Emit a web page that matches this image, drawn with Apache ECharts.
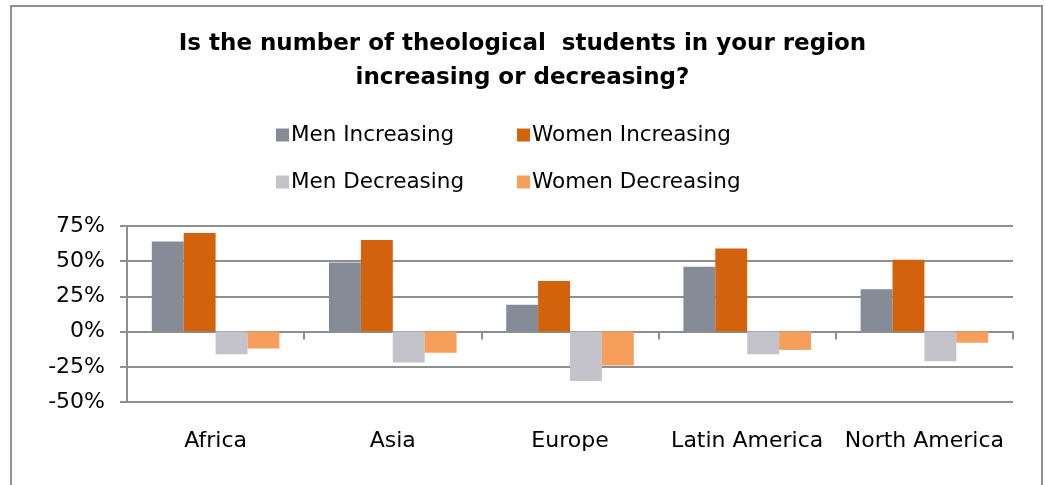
<!DOCTYPE html>
<html>
<head>
<meta charset="utf-8">
<script src="https://cdn.jsdelivr.net/npm/echarts@6/dist/echarts.min.js"></script>
<style>
  html, body { margin: 0; padding: 0; background: #fff; }
  #chart { width: 1045px; height: 485px; }
</style>
</head>
<body>
<div id="chart"></div>
<script>
"use strict";

// data (percent)
const categories = ["Africa", "Asia", "Europe", "Latin America", "North America"];
const men_increasing = [64, 49, 19, 46, 30];
const women_increasing = [70, 65, 36, 59, 51];
const men_decreasing = [-16, -22, -35, -16, -21];
const women_decreasing = [-12, -15, -24, -13, -8];
const series_names = ["Men Increasing", "Women Increasing", "Men Decreasing", "Women Decreasing"];
const chart_colors = ["#858c98", "#d2620b", "#c4c3cb", "#f69f5d"];

const FONT = "DejaVu Sans";
const GRID_COLOR = "#8f8f8f";

function legend_item(name, left, top) {
  return {
    data: [name],
    left: left,
    top: top,
    padding: 0,
    icon: "rect",
    itemWidth: 13,
    itemHeight: 13,
    itemGap: 0,
    selectedMode: false,
    textStyle: { fontFamily: FONT, fontSize: 21.5, color: "#000", padding: [0, 0, 0, -3] },
  };
}

function bar_series(name, values, color) {
  return {
    name: name,
    type: "bar",
    data: values,
    barGap: "0%",
    barCategoryGap: "28%",
    itemStyle: { color: color },
    animation: false,
    silent: true,
  };
}

const chart = echarts.init(document.getElementById("chart"));
chart.setOption({
  animation: false,
  title: {
    text: "Is the number of theological  students in your region\nincreasing or decreasing?",
    left: "center",
    top: 22,
    textStyle: {
      fontFamily: FONT,
      fontWeight: "bold",
      fontSize: 23,
      lineHeight: 34,
      color: "#000",
    },
  },
  legend: [
    legend_item(series_names[0], 276, 124),
    legend_item(series_names[1], 517, 124),
    legend_item(series_names[2], 276, 171),
    legend_item(series_names[3], 517, 171),
  ],
  grid: {
    left: 127,
    right: 32,
    top: 226,
    bottom: 83,
    containLabel: false,
    outerBoundsMode: "none",
  },
  xAxis: {
    type: "category",
    data: categories,
    axisLine: { onZero: true, lineStyle: { color: GRID_COLOR, width: 2 } },
    axisTick: { show: true, length: 8, lineStyle: { color: GRID_COLOR, width: 2 } },
    axisLabel: {
      interval: 0,
      margin: 28,
      fontFamily: FONT,
      fontSize: 22,
      color: "#000",
    },
  },
  yAxis: {
    type: "value",
    min: -50,
    max: 75,
    interval: 25,
    axisLine: { show: true, lineStyle: { color: GRID_COLOR, width: 2 } },
    axisTick: { show: true, length: 7, lineStyle: { color: GRID_COLOR, width: 2 } },
    splitLine: { lineStyle: { color: GRID_COLOR, width: 2 } },
    axisLabel: {
      margin: 22,
      fontFamily: FONT,
      fontSize: 22,
      color: "#000",
      formatter: "{value}%",
    },
  },
  graphic: [
    {
      type: "rect",
      shape: { x: 11, y: 6, width: 1031, height: 520 },
      style: { fill: "none", stroke: "#909090", lineWidth: 2 },
      silent: true,
    },
  ],
  series: [
    bar_series(series_names[0], men_increasing, chart_colors[0]),
    bar_series(series_names[1], women_increasing, chart_colors[1]),
    bar_series(series_names[2], men_decreasing, chart_colors[2]),
    bar_series(series_names[3], women_decreasing, chart_colors[3]),
  ],
});
</script>
</body>
</html>
